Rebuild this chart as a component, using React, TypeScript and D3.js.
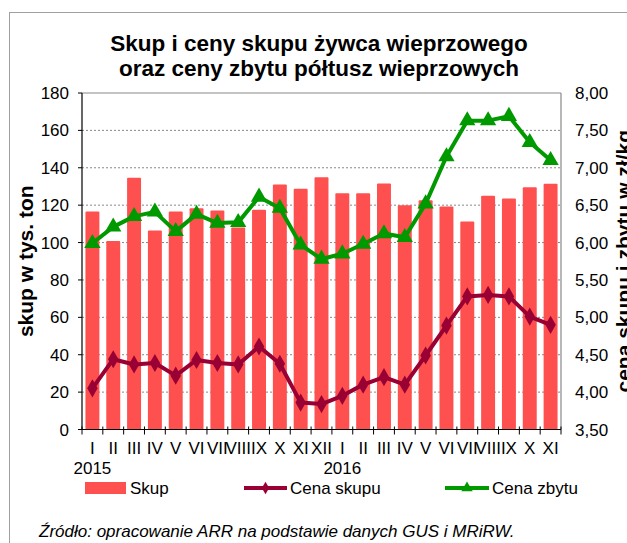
import React from 'react'
import * as d3 from 'd3'

const MONTHS = ['I', 'II', 'III', 'IV', 'V', 'VI', 'VII', 'VIII', 'IX', 'X', 'XI', 'XII',
  'I', 'II', 'III', 'IV', 'V', 'VI', 'VII', 'VIII', 'IX', 'X', 'XI']
const YEARS = [{ idx: 0, label: '2015' }, { idx: 12, label: '2016' }]

const SKUP = [116.6, 100.8, 134.6, 106.5, 116.6, 118.3, 117.2, 108, 117.6, 131.1, 128.8, 135,
  126.4, 126.4, 131.6, 119.9, 122.6, 119.3, 111.3, 125, 123.6, 129.6, 131.5]
const CENA_SKUPU = [4.05, 4.44, 4.37, 4.39, 4.22, 4.43, 4.39, 4.37, 4.61, 4.38, 3.86, 3.84,
  3.95, 4.1, 4.2, 4.1, 4.49, 4.89, 5.28, 5.3, 5.28, 5.01, 4.9]
const CENA_ZBYTU = [5.99, 6.21, 6.35, 6.41, 6.15, 6.38, 6.26, 6.27, 6.61, 6.46, 5.97, 5.78,
  5.85, 5.98, 6.12, 6.07, 6.52, 7.15, 7.63, 7.63, 7.69, 7.34, 7.1]

const LEFT_TICKS = [0, 20, 40, 60, 80, 100, 120, 140, 160, 180]
const RIGHT_TICKS = [3.5, 4, 4.5, 5, 5.5, 6, 6.5, 7, 7.5, 8]

const W = 627
const H = 543
const m = { left: 82, right: 561, top: 93, bottom: 429.5 }
const FONT = 'Arial, "Liberation Sans", sans-serif'
const BAR = '#ff5050'
const SKUP_C = '#990033'
const ZBYT_C = '#009900'

export default function App() {
  const idx = MONTHS.map((_, i) => i)
  const x = d3.scaleBand<number>().domain(idx).range([m.left, m.right]).paddingInner(0.33).paddingOuter(0.165)
  const xs = d3.scaleBand<number>().domain(idx).range([m.left, m.right])
  const yL = d3.scaleLinear().domain([0, 180]).range([m.bottom, m.top])
  const yR = d3.scaleLinear().domain([3.5, 8]).range([m.bottom, m.top])
  const cx = (i: number) => xs(i)! + xs.bandwidth() / 2

  const line = d3.line<number>().x((_, i) => cx(i)).y(d => yR(d))
  const diamond = d3.symbol().type(d3.symbolDiamond).size(95)()
  const triangle = d3.symbol().type(d3.symbolTriangle).size(115)()

  const bounds = d3.range(MONTHS.length + 1).map(i => m.left + i * xs.step())
  const fmt = (t: number) => d3.format('.2f')(t).replace('.', ',')

  return (
    <svg width={W} height={H} style={{ position: 'absolute', left: 0, top: 0 }} fontFamily={FONT}>
      <rect x={9.5} y={12.5} width={W + 10} height={H + 10} fill="white" stroke="#a0a0a0" strokeWidth={1} />
      <text x={319} y={51} textAnchor="middle" fontSize={22.5} fontWeight="bold">Skup i ceny skupu żywca wieprzowego</text>
      <text x={319} y={76} textAnchor="middle" fontSize={22.5} fontWeight="bold">oraz ceny zbytu półtusz wieprzowych</text>

      {LEFT_TICKS.filter(t => t > 0 && t < 180).map(t => (
        <line key={t} x1={m.left} x2={m.right} y1={yL(t)} y2={yL(t)} stroke="#888" strokeDasharray="2,2" strokeWidth={1} />
      ))}
      <line x1={m.left} x2={m.right} y1={m.top} y2={m.top} stroke="#888" />

      {SKUP.map((v, i) => (
        <rect key={i} x={x(i)} y={yL(v)} width={x.bandwidth()} height={m.bottom - yL(v)} fill={BAR} rx={1} />
      ))}

      <path d={line(CENA_ZBYTU) || ''} fill="none" stroke={ZBYT_C} strokeWidth={4} strokeLinejoin="round" />
      {CENA_ZBYTU.map((v, i) => (
        <path key={i} d={triangle || ''} transform={`translate(${cx(i)},${yR(v)})`} fill={ZBYT_C} />
      ))}
      <path d={line(CENA_SKUPU) || ''} fill="none" stroke={SKUP_C} strokeWidth={4} strokeLinejoin="round" />
      {CENA_SKUPU.map((v, i) => (
        <path key={i} d={diamond || ''} transform={`translate(${cx(i)},${yR(v)})`} fill={SKUP_C} />
      ))}

      {/* left axis */}
      <line x1={m.left} x2={m.left} y1={m.top} y2={m.bottom} stroke="black" strokeWidth={1.2} />
      {LEFT_TICKS.map(t => (
        <g key={t}>
          <line x1={m.left - 4} x2={m.left} y1={yL(t)} y2={yL(t)} stroke="black" />
          <text x={69} y={yL(t) + 6} textAnchor="end" fontSize={17}>{t}</text>
        </g>
      ))}
      <text transform={`translate(33,${(m.top + m.bottom) / 2}) rotate(-90)`} textAnchor="middle" fontSize={21} fontWeight="bold">skup w tys. ton</text>

      {/* right axis */}
      <line x1={m.right} x2={m.right} y1={m.top} y2={m.bottom} stroke="#888" strokeWidth={1.2} />
      {RIGHT_TICKS.map(t => (
        <text key={t} x={575} y={yR(t) + 6} fontSize={17}>{fmt(t)}</text>
      ))}
      <text transform={`translate(631,${(m.top + m.bottom) / 2}) rotate(-90)`} textAnchor="middle" fontSize={21} fontWeight="bold">cena skupu i zbytu w zł/kg</text>

      {/* bottom axis */}
      <line x1={m.left} x2={m.right} y1={m.bottom} y2={m.bottom} stroke="black" strokeWidth={1.2} />
      {bounds.map((b, i) => (
        <line key={i} x1={b} x2={b} y1={m.bottom - 3} y2={m.bottom + 5} stroke="black" />
      ))}
      {MONTHS.map((mo, i) => (
        <text key={i} x={cx(i)} y={454} textAnchor="middle" fontSize={17}>{mo}</text>
      ))}
      {YEARS.map(yr => (
        <text key={yr.label} x={cx(yr.idx)} y={474} textAnchor="middle" fontSize={17}>{yr.label}</text>
      ))}

      {/* legend */}
      <rect x={85} y={482} width={41} height={12} fill={BAR} />
      <text x={130} y={494} fontSize={17}>Skup</text>
      <line x1={244} x2={287} y1={488} y2={488} stroke={SKUP_C} strokeWidth={4} />
      <path d={diamond || ''} transform="translate(265.5,488) scale(0.7)" fill={SKUP_C} />
      <text x={290} y={494} fontSize={17}>Cena skupu</text>
      <line x1={445} x2={489} y1={488} y2={488} stroke={ZBYT_C} strokeWidth={4} />
      <path d={triangle || ''} transform="translate(467,488) scale(0.7)" fill={ZBYT_C} />
      <text x={492} y={494} fontSize={17}>Cena zbytu</text>

      <text x={39} y={537} fontSize={17} fontStyle="italic">Źródło: opracowanie ARR na podstawie danych GUS i MRiRW.</text>
    </svg>
  )
}
